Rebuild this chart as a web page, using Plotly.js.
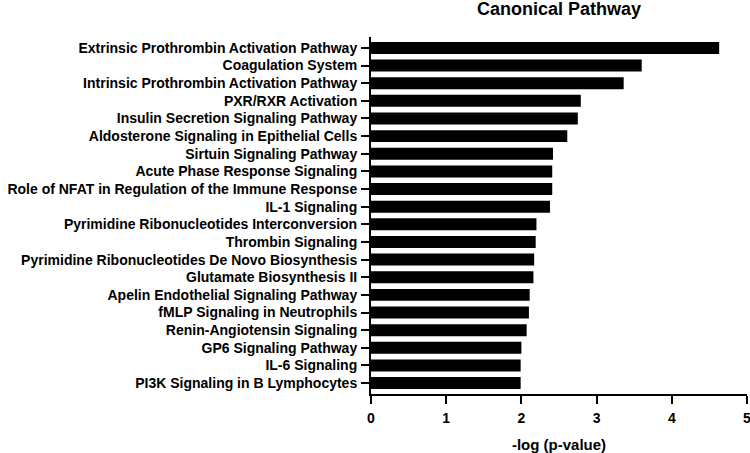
<!DOCTYPE html>
<html>
<head>
<meta charset="utf-8">
<script src="https://cdn.plot.ly/plotly-3.0.1.min.js"></script>
<style>html,body{margin:0;padding:0;background:#fff;}#chart{width:750px;height:453px;}</style>
</head>
<body>
<div id="chart"></div>
<script>
var pathways = [
  "Extrinsic Prothrombin Activation Pathway",
  "Coagulation System",
  "Intrinsic Prothrombin Activation Pathway",
  "PXR/RXR Activation",
  "Insulin Secretion Signaling Pathway",
  "Aldosterone Signaling in Epithelial Cells",
  "Sirtuin Signaling Pathway",
  "Acute Phase Response Signaling",
  "Role of NFAT in Regulation of the Immune Response",
  "IL-1 Signaling",
  "Pyrimidine Ribonucleotides Interconversion",
  "Thrombin Signaling",
  "Pyrimidine Ribonucleotides De Novo Biosynthesis",
  "Glutamate Biosynthesis II",
  "Apelin Endothelial Signaling Pathway",
  "fMLP Signaling in Neutrophils",
  "Renin-Angiotensin Signaling",
  "GP6 Signaling Pathway",
  "IL-6 Signaling",
  "PI3K Signaling in B Lymphocytes"
];
var negLogP = [4.63, 3.60, 3.36, 2.79, 2.75, 2.61, 2.42, 2.41, 2.41, 2.38,
               2.20, 2.19, 2.17, 2.16, 2.11, 2.10, 2.07, 2.00, 1.99, 1.99];
var xTicks = [0, 1, 2, 3, 4, 5];

var font = "Liberation Sans, Arial, sans-serif";
var trace = {
  type: "bar",
  orientation: "h",
  x: negLogP,
  y: pathways,
  marker: {color: "#000000", line: {width: 0}},
  hoverinfo: "x+y"
};
var layout = {
  width: 750, height: 453,
  margin: {l: 371, r: 3, t: 37, b: 59},
  paper_bgcolor: "#fff", plot_bgcolor: "#fff",
  bargap: 0.32,
  showlegend: false,
  title: {
    text: "<b>Canonical Pathway</b>",
    font: {family: font, size: 18, color: "#000"},
    x: 0.5, xref: "paper", xanchor: "center",
    y: 1 - 9/453, yref: "container", yanchor: "middle"
  },
  xaxis: {
    range: [0, 5],
    tickvals: xTicks,
    ticktext: xTicks.map(function(v){return "<b>" + v + "</b>";}),
    ticks: "outside", ticklen: 8, tickwidth: 2, tickcolor: "#000",
    showline: true, linewidth: 2, linecolor: "#000",
    showgrid: false, zeroline: false,
    ticklabeloverflow: "allow",
    ticklabelstandoff: 2,
    tickfont: {family: font, size: 14, color: "#000"},
    title: {text: "<b>-log (p-value)</b>", font: {family: font, size: 15, color: "#000"}, standoff: 19}
  },
  yaxis: {
    type: "category",
    range: [19.62, -0.62],
    ticks: "outside", ticklen: 8, tickwidth: 2, tickcolor: "#000",
    showline: true, linewidth: 2, linecolor: "#000",
    showgrid: false, zeroline: false,
    ticklabelstandoff: 1,
    tickvals: pathways,
    ticktext: pathways.map(function(s){return "<b>" + s + "</b>";}),
    tickfont: {family: font, size: 14, color: "#000"}
  }
};
Plotly.newPlot("chart", [trace], layout, {displayModeBar: false, staticPlot: true});
</script>
</body>
</html>
